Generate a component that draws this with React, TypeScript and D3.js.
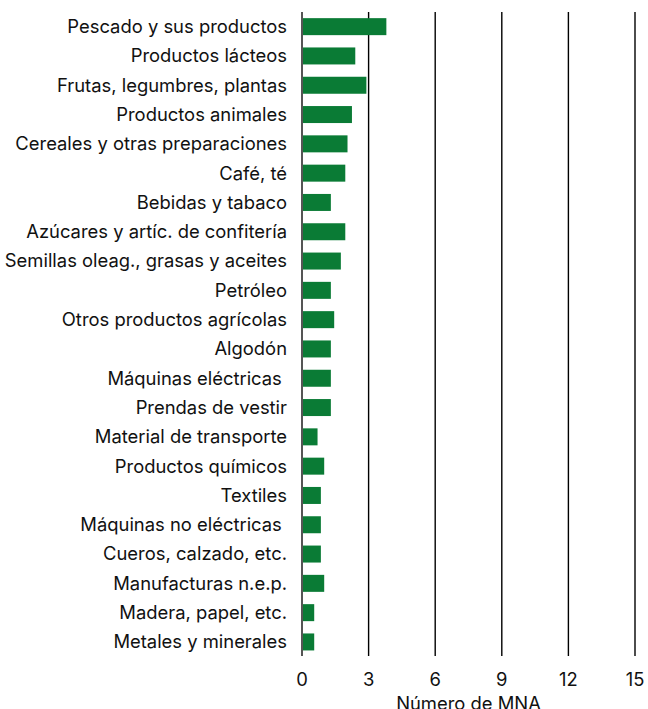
import React, { useEffect, useRef } from 'react';
import * as d3 from 'd3';

const categories = [
  'Pescado y sus productos',
  'Productos lácteos',
  'Frutas, legumbres, plantas',
  'Productos animales',
  'Cereales y otras preparaciones',
  'Café, té',
  'Bebidas y tabaco',
  'Azúcares y artíc. de confitería',
  'Semillas oleag., grasas y aceites',
  'Petróleo',
  'Otros productos agrícolas',
  'Algodón',
  'Máquinas eléctricas ',
  'Prendas de vestir',
  'Material de transporte',
  'Productos químicos',
  'Textiles',
  'Máquinas no eléctricas ',
  'Cueros, calzado, etc.',
  'Manufacturas n.e.p.',
  'Madera, papel, etc.',
  'Metales y minerales',
];
const values = [3.8, 2.4, 2.9, 2.25, 2.05, 1.95, 1.3, 1.95, 1.75, 1.3, 1.45, 1.3, 1.3, 1.3, 0.7, 1.0, 0.85, 0.85, 0.85, 1.0, 0.55, 0.55];
const xTicks = [0, 3, 6, 9, 12, 15];
const xTitle = 'Número de MNA';

const App = () => {
  const svgRef = useRef<SVGSVGElement>(null);
  const totalWidth = 648;
  const totalHeight = 709;

  useEffect(() => {
    d3.select(svgRef.current).selectAll('*').remove();
    const svg = d3.select(svgRef.current);
    const font = 'Inter, "Liberation Sans", Arial, sans-serif';

    const x = d3.scaleLinear().domain([0, 15]).range([302, 635]);
    const y = d3.scaleBand()
      .domain(categories)
      .range([12, 12 + 22 * 29.3])
      .paddingInner(0.42)
      .paddingOuter(0.21);

    const gridTop = 12;
    const gridBottom = 656;

    // vertical grid lines (also serve as ticks)
    svg.append('g')
      .selectAll('line')
      .data(xTicks.filter(t => t > 0))
      .enter().append('line')
        .attr('x1', d => x(d))
        .attr('x2', d => x(d))
        .attr('y1', gridTop)
        .attr('y2', gridBottom)
        .attr('stroke', '#000')
        .attr('stroke-width', 1.4);

    // bars
    svg.append('g')
      .selectAll('rect')
      .data(values)
      .enter().append('rect')
        .attr('x', x(0))
        .attr('y', (d, i) => y(categories[i]) ?? 0)
        .attr('width', d => x(d) - x(0))
        .attr('height', y.bandwidth())
        .attr('fill', '#0a7b35');

    // zero axis line
    svg.append('line')
      .attr('x1', x(0))
      .attr('x2', x(0))
      .attr('y1', gridTop)
      .attr('y2', gridBottom)
      .attr('stroke', '#555')
      .attr('stroke-width', 2);

    // category labels
    svg.append('g')
      .selectAll('text')
      .data(categories)
      .enter().append('text')
        .attr('x', 287)
        .attr('y', d => (y(d) ?? 0) + y.bandwidth() / 2)
        .attr('dy', '0.35em')
        .attr('text-anchor', 'end')
        .style('white-space', 'pre')
        .attr('font-family', font)
        .attr('font-size', 18.4)
        .attr('fill', '#111')
        .text(d => d);

    // tick labels
    svg.append('g')
      .selectAll('text')
      .data(xTicks)
      .enter().append('text')
        .attr('x', d => x(d))
        .attr('y', 680)
        .attr('dy', '0.35em')
        .attr('text-anchor', 'middle')
        .attr('font-family', font)
        .attr('font-size', 18.4)
        .attr('fill', '#111')
        .text(d => d);

    svg.append('text')
      .attr('x', (x(0) + x(15)) / 2)
      .attr('y', 704)
      .attr('dy', '0.35em')
      .attr('text-anchor', 'middle')
      .attr('font-family', font)
      .attr('font-size', 18.4)
      .attr('fill', '#111')
      .text(xTitle);
  }, []);

  return (
    <svg
      ref={svgRef}
      width={totalWidth}
      height={totalHeight}
      style={{ position: 'absolute', left: 0, top: 0, background: '#fff' }}
    />
  );
};

export default App;
